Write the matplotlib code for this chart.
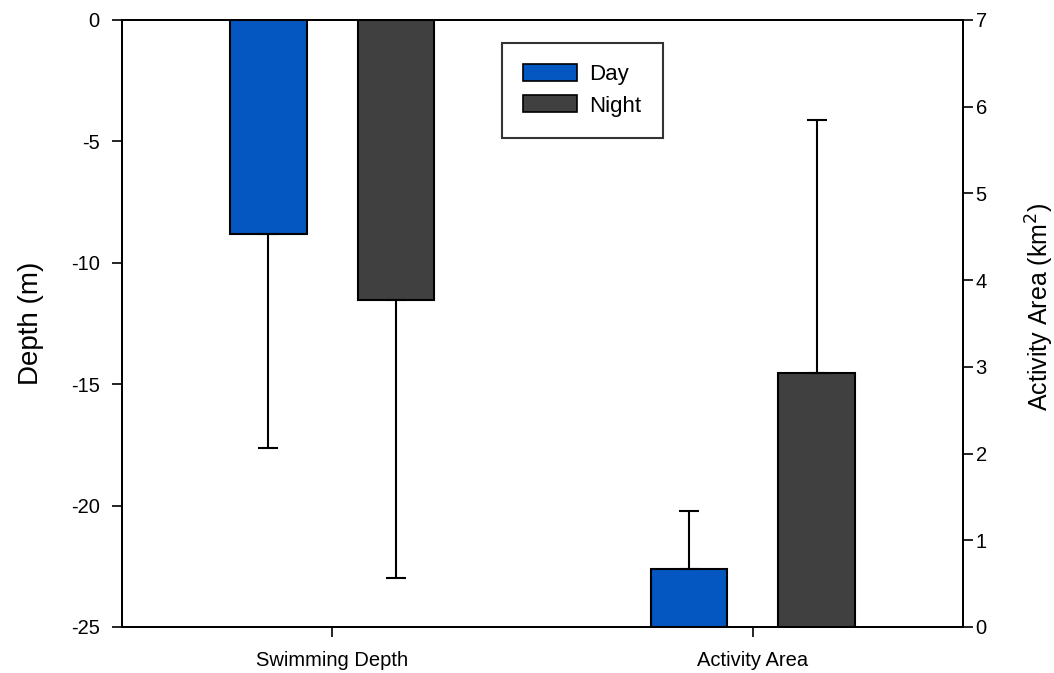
import matplotlib
matplotlib.use("Agg")
from matplotlib import pyplot as plt
from matplotlib.patches import Patch

plt.rcParams['font.family'] = ['Liberation Sans', 'DejaVu Sans']
plt.rcParams['axes.unicode_minus'] = False

grupos = ['Swimming Depth', 'Activity Area']
series = ['Day', 'Night']
colores = ['#0457c0', '#404040']

# Swimming depth (m), error hacia abajo
profundidad = [-8.8, -11.55]
prof_err = [8.82, 11.45]

# Activity area (km2), error hacia arriba
area = [0.67, 2.93]
area_err = [0.67, 2.92]

fig = plt.figure(figsize=(10.54, 6.73), dpi=100)
ax = fig.add_axes([0.1157, 0.0684, 0.798, 0.9019])
ax2 = ax.twinx()

ancho = 0.182
desp = 0.152

for i, s in enumerate(series):
    off = -desp if i == 0 else desp
    ax.bar(0 + off, profundidad[i], ancho, color=colores[i],
           edgecolor='black', linewidth=1.5, zorder=2)
    ax.errorbar(0 + off, profundidad[i], yerr=[[prof_err[i]], [0]],
                fmt='none', ecolor='black', elinewidth=1.5, capsize=7,
                capthick=1.5, zorder=3)
    ax2.bar(1 + off, area[i], ancho, color=colores[i],
            edgecolor='black', linewidth=1.5, zorder=2)
    ax2.errorbar(1 + off, area[i], yerr=[[0], [area_err[i]]],
                 fmt='none', ecolor='black', elinewidth=1.5, capsize=7,
                 capthick=1.5, zorder=3)

ax.set_xlim(-0.5, 1.5)
ax.set_ylim(-25, 0)
ax2.set_ylim(0, 7)
ax.set_xticks([0, 1])
ax.set_xticklabels(grupos)
ax.set_yticks([0, -5, -10, -15, -20, -25])
ax2.set_yticks(range(0, 8))

ax.set_ylabel('Depth (m)', fontsize=20)
ax2.set_ylabel('Activity Area (km$^2$)', fontsize=18)
ax.yaxis.set_label_coords(-0.093, 0.5)
ax2.yaxis.set_label_coords(1.072, 0.527)

for a in (ax, ax2):
    a.tick_params(direction='out', length=7, width=1.2, labelsize=14.5)
    for sp in a.spines.values():
        sp.set_linewidth(1.4)
ax.tick_params(axis='y', pad=9)
ax2.tick_params(axis='y', pad=2)
ax.tick_params(axis='x', labelsize=14.5, pad=10)

handles = [Patch(facecolor=colores[i], edgecolor='black', linewidth=1.2, label=series[i])
           for i in range(2)]
leg = ax2.legend(handles=handles, loc='upper left', bbox_to_anchor=(0.452, 0.962),
                 borderaxespad=0, fontsize=16, frameon=True, fancybox=False,
                 handlelength=2.43, handleheight=0.8, handletextpad=0.55,
                 labelspacing=0.45, borderpad=0.95)
leg.get_frame().set_edgecolor('black')
leg.get_frame().set_linewidth(1.5)

fig.savefig('out.png', dpi=100)
